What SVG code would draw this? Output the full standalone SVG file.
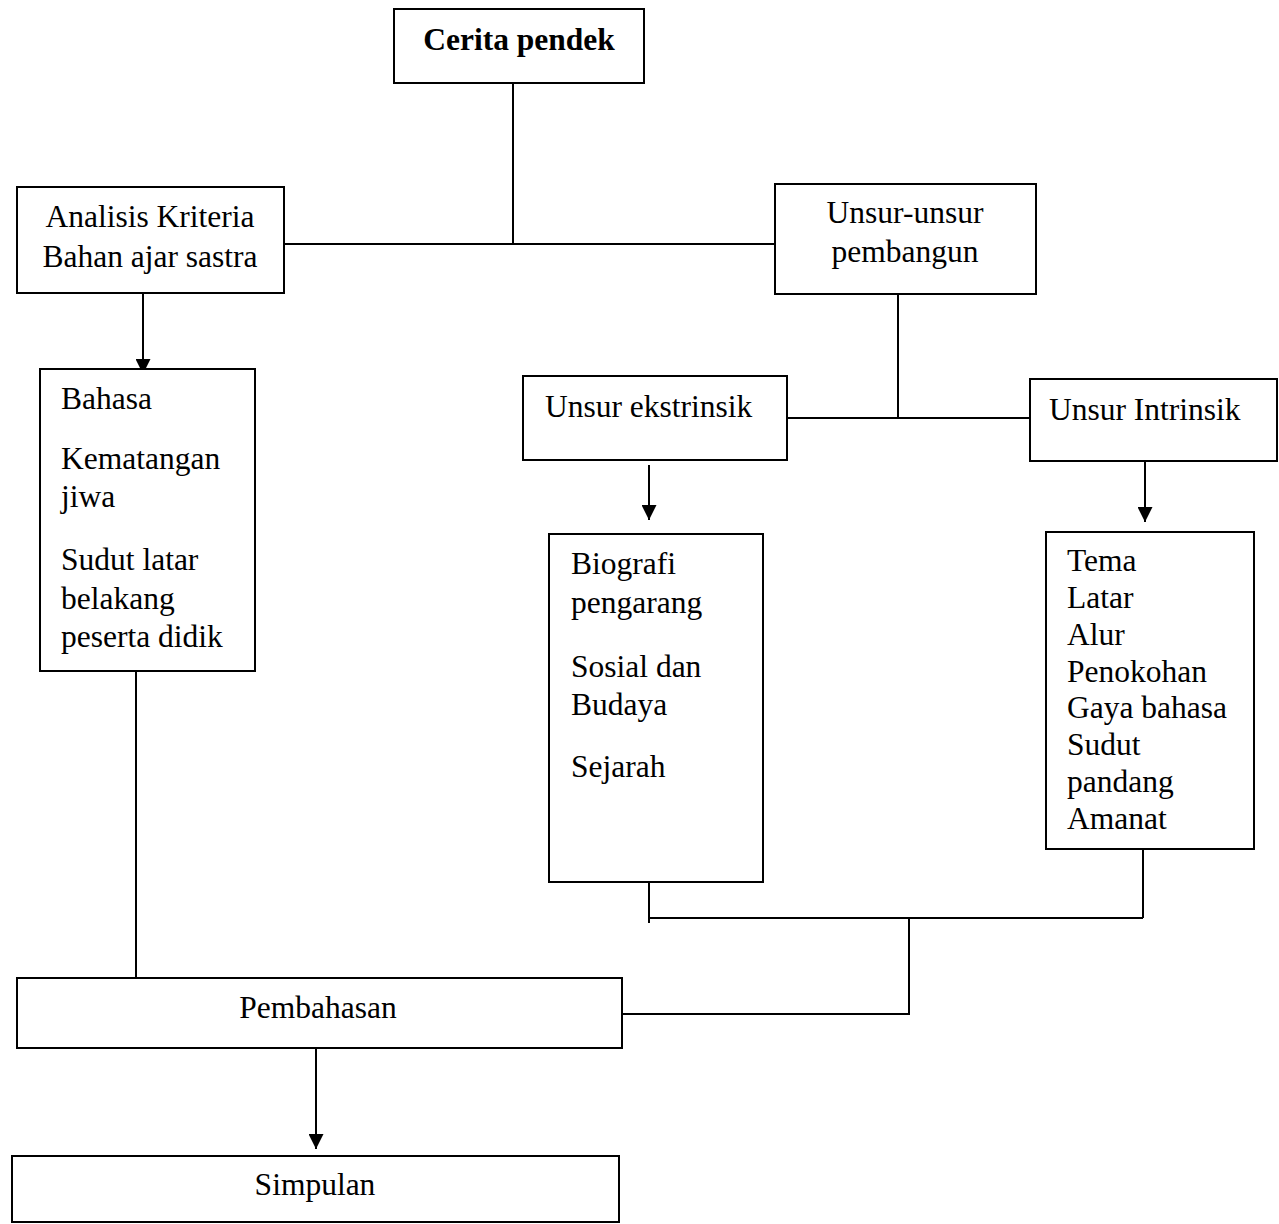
<svg xmlns="http://www.w3.org/2000/svg" width="1279" height="1224" viewBox="0 0 1279 1224">
<style>
.box{fill:#fff;stroke:#000;stroke-width:2}
.ln{fill:none;stroke:#000;stroke-width:2}
text{font-family:"Liberation Serif","Times New Roman",serif;font-size:31.5px;fill:#000}
.c{text-anchor:middle}
.b{font-weight:bold}
</style>
<defs>
<marker id="ah" viewBox="0 0 15 15" refX="15" refY="7.5" markerWidth="15" markerHeight="15" markerUnits="userSpaceOnUse" orient="auto">
<path d="M0,0 L15,7.5 L0,15 Z" fill="#000"/>
</marker>
</defs>
<rect width="1279" height="1224" fill="#fff"/>
<g id="connectors">
<path class="ln" d="M513,83 V244"/>
<path class="ln" d="M284,244 H775"/>
<path class="ln" d="M143,293 V374" marker-end="url(#ah)"/>
<path class="ln" d="M898,294 V418"/>
<path class="ln" d="M787,418 H1030"/>
<path class="ln" d="M649,465 V520" marker-end="url(#ah)"/>
<path class="ln" d="M1145,461 V522" marker-end="url(#ah)"/>
<path class="ln" d="M649,882 V923"/>
<path class="ln" d="M1143,849 V918"/>
<path class="ln" d="M649,918 H1143"/>
<path class="ln" d="M909,918 V1014 H622"/>
<path class="ln" d="M136,671 V977"/>
<path class="ln" d="M316,1048 V1149" marker-end="url(#ah)"/>
</g>
<g id="cerita">
<rect class="box" x="394" y="9" width="250" height="74"/>
<text class="c b" x="519" y="50">Cerita pendek</text>
</g>
<g id="analisis">
<rect class="box" x="17" y="187" width="267" height="106"/>
<text class="c" x="150" y="227">Analisis Kriteria</text>
<text class="c" x="150" y="267">Bahan ajar sastra</text>
</g>
<g id="kriteria">
<rect class="box" x="40" y="369" width="215" height="302"/>
<text x="61" y="409">Bahasa</text>
<text x="61" y="469">Kematangan</text>
<text x="61" y="507">jiwa</text>
<text x="61" y="570">Sudut latar</text>
<text x="61" y="609">belakang</text>
<text x="61" y="647">peserta didik</text>
</g>
<g id="unsur">
<rect class="box" x="775" y="184" width="261" height="110"/>
<text class="c" x="905" y="223">Unsur-unsur</text>
<text class="c" x="905" y="262">pembangun</text>
</g>
<g id="ekstrinsik">
<rect class="box" x="523" y="376" width="264" height="84"/>
<text x="545" y="417">Unsur ekstrinsik</text>
</g>
<g id="intrinsik">
<rect class="box" x="1030" y="379" width="247" height="82"/>
<text x="1049" y="420">Unsur Intrinsik</text>
</g>
<g id="ekstrinsik-list">
<rect class="box" x="549" y="534" width="214" height="348"/>
<text x="571" y="574">Biografi</text>
<text x="571" y="613">pengarang</text>
<text x="571" y="677">Sosial dan</text>
<text x="571" y="715">Budaya</text>
<text x="571" y="777">Sejarah</text>
</g>
<g id="intrinsik-list">
<rect class="box" x="1046" y="532" width="208" height="317"/>
<text x="1067" y="571">Tema</text>
<text x="1067" y="608">Latar</text>
<text x="1067" y="645">Alur</text>
<text x="1067" y="682">Penokohan</text>
<text x="1067" y="718">Gaya bahasa</text>
<text x="1067" y="755">Sudut</text>
<text x="1067" y="792">pandang</text>
<text x="1067" y="829">Amanat</text>
</g>
<g id="pembahasan">
<rect class="box" x="17" y="978" width="605" height="70"/>
<text class="c" x="318" y="1018">Pembahasan</text>
</g>
<g id="simpulan">
<rect class="box" x="12" y="1156" width="607" height="66"/>
<text class="c" x="315" y="1195">Simpulan</text>
</g>
</svg>
